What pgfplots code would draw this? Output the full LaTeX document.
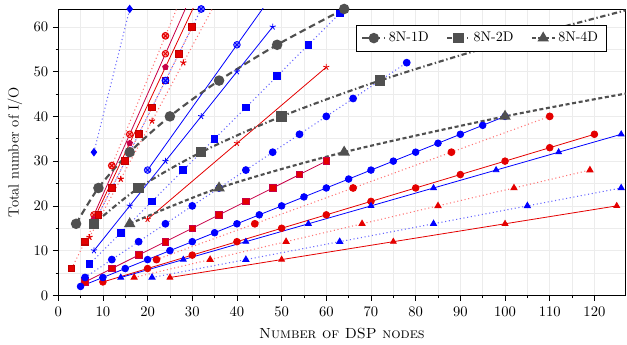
\documentclass[border=0pt]{standalone}
\usepackage{pgfplots}
\pgfplotsset{compat=1.18}
\definecolor{cblue}{RGB}{0,0,255}
\definecolor{cred}{RGB}{228,0,0}
\definecolor{ccrim}{RGB}{200,0,70}
\definecolor{cgray}{RGB}{80,80,80}
\pgfplotsset{
  rsolid/.style={cred, line width=0.6pt},
  csolid/.style={ccrim, line width=0.6pt},
  rdot/.style={red!55, line width=0.8pt, dotted},
  bsolid/.style={cblue, line width=0.6pt},
  bdot/.style={blue!60, line width=0.8pt, dotted},
  rmk/.style={mark options={solid, draw=cred, fill=cred}},
  bmk/.style={mark options={solid, draw=cblue, fill=cblue}},
}
\begin{document}
\begin{tikzpicture}
\begin{axis}[
  scale only axis, width=426pt, height=215pt,
  xmin=0, xmax=127, ymin=0, ymax=64,
  xtick={0,10,...,120}, ytick={0,10,...,60},
  minor tick num=1,
  grid=both,
  major grid style={gray!15, line width=0.4pt},
  minor grid style={gray!15, line width=0.4pt},
  tick align=outside, tick pos=left,
  major tick length=4pt, minor tick length=2pt,
  tick style={black, line width=0.5pt},
  axis line style={black, line width=0.6pt},
  xlabel={\textsc{Number of DSP nodes}},
  ylabel={Total number of I/O},
  label style={font=\fontsize{11}{13}\selectfont},
  tick label style={font=\fontsize{11}{13}\selectfont},
  xticklabel style={yshift=-1pt},
  xlabel style={at={(axis description cs:0.5,0)}, yshift=-28.6pt, anchor=center},
  ylabel style={at={(axis description cs:-0.0763,0.5)}, anchor=center},
  legend style={at={(rel axis cs:0.966,0.945)}, anchor=north east,
    font=\fontsize{10.5}{12}\selectfont, draw=black, fill=white,
    inner xsep=4pt, inner ysep=3.5pt,
    /tikz/every even column/.append style={column sep=11pt}},
  legend columns=3,
  legend cell align=left,
]
\addlegendimage{cgray, line width=1.6pt, dash pattern=on 5pt off 3pt, mark=*, mark size=3.1pt, mark options={solid, fill=cgray}}
\addlegendentry{8N-1D}
\addlegendimage{cgray, line width=1.6pt, dash pattern=on 4pt off 2pt on 1pt off 2pt, mark=square*, mark size=3.1pt, mark options={solid, fill=cgray}}
\addlegendentry{8N-2D}
\addlegendimage{cgray, line width=1.6pt, dash pattern=on 3pt off 2pt, mark=triangle*, mark size=3.4pt, mark options={solid, fill=cgray}}
\addlegendentry{8N-4D}

% ---------- red series ----------
\addplot[forget plot, rdot, mark=otimes*, mark size=2.5pt, mark options={solid, draw=cred, fill=red!40}]
  coordinates {(12,29) (24,58) (36,87)};
\addplot[forget plot, csolid, mark=otimes*, mark size=2.5pt, mark options={solid, draw=cred, fill=red!40}]
  coordinates {(8,18) (16,36) (24,54) (32,72)};
\addplot[forget plot, rsolid, mark=pentagon*, mark size=2.2pt, mark options={solid, draw=ccrim, fill=ccrim}]
  coordinates {(8,17) (16,34) (24,51) (32,68)};
\addplot[forget plot, rdot, mark=square*, mark size=2.5pt, mark options={solid, draw=red!75!black, fill=cred}]
  coordinates {(3,6) (6,12) (9,18) (12,24) (15,30) (18,36) (21,42) (24,48) (27,54) (30,60)};
\addplot[forget plot, rdot, mark=star, mark size=2.4pt, rmk]
  coordinates {(7,13) (14,26) (21,39) (28,52) (35,65)};
\addplot[forget plot, rsolid, mark=star, mark size=2.4pt, rmk]
  coordinates {(20,17) (40,34) (60,51)};
\addplot[forget plot, csolid, mark=square*, mark size=2.5pt, mark options={solid, draw=ccrim, fill=cred}]
  coordinates {(6,3) (12,6) (18,9) (24,12) (30,15) (36,18) (42,21) (48,24) (54,27) (60,30)};
\addplot[forget plot, rdot, mark=*, mark size=2.5pt, rmk]
  coordinates {(22,8) (44,16) (66,24) (88,32) (110,40)};
\addplot[forget plot, rsolid, mark=*, mark size=2.5pt, rmk]
  coordinates {(10,3) (20,6) (30,9) (40,12) (50,15) (60,18) (70,21) (80,24) (90,27) (100,30) (110,33) (120,36)};
\addplot[forget plot, rdot, mark=triangle*, mark size=2.5pt, rmk]
  coordinates {(17,4) (34,8) (51,12) (68,16) (85,20) (102,24) (119,28)};
\addplot[forget plot, rsolid, mark=triangle*, mark size=2.5pt, rmk]
  coordinates {(25,4) (50,8) (75,12) (100,16) (125,20)};

% ---------- blue series ----------
\addplot[forget plot, bdot, mark=diamond*, mark size=2.6pt, bmk]
  coordinates {(8,32) (16,64)};
\addplot[forget plot, bdot, mark=otimes*, mark size=2.5pt, mark options={solid, draw=cblue, fill=blue!45}]
  coordinates {(8,16) (16,32) (24,48) (32,64)};
\addplot[forget plot, bsolid, mark=otimes*, mark size=2.5pt, mark options={solid, draw=cblue, fill=blue!45}]
  coordinates {(20,28) (40,56) (60,84)};
\addplot[forget plot, bsolid, mark=star, mark size=2.4pt, bmk]
  coordinates {(8,10) (16,20) (24,30) (32,40) (40,50) (48,60)};
\addplot[forget plot, bdot, mark=square*, mark size=2.5pt, bmk]
  coordinates {(7,7) (14,14) (21,21) (28,28) (35,35) (42,42) (49,49) (56,56) (63,63)};
\addplot[forget plot, bdot, mark=*, mark size=2.5pt, bmk]
  coordinates {(6,4) (12,8) (18,12) (24,16) (30,20) (36,24) (42,28) (48,32) (54,36) (60,40) (66,44) (72,48) (78,52)};
\addplot[forget plot, bsolid, mark=*, mark size=2.5pt, bmk]
  coordinates {(5,2) (10,4) (15,6) (20,8) (25,10) (30,12) (35,14) (40,16) (45,18) (50,20) (55,22) (60,24) (65,26) (70,28) (75,30) (80,32) (85,34) (90,36) (95,38) (100,40)};
\addplot[forget plot, bsolid, mark=triangle*, mark size=2.5pt, bmk]
  coordinates {(14,4) (28,8) (42,12) (56,16) (70,20) (84,24) (98,28) (112,32) (126,36)};
\addplot[forget plot, bdot, mark=triangle*, mark size=2.5pt, bmk]
  coordinates {(21,4) (42,8) (63,12) (84,16) (105,20) (126,24)};

% ---------- gray reference curves ----------
\addplot[forget plot, cgray, line width=1.6pt, dash pattern=on 5pt off 3pt, smooth, mark=*, mark size=3.1pt, mark options={solid, fill=cgray}]
  coordinates {(4,16) (9,24) (16,32) (25,40) (36,48) (49,56) (64,64)};
\addplot[forget plot, cgray, line width=1.6pt, dash pattern=on 4pt off 2pt on 1pt off 2pt, smooth, mark=square*, mark size=3.1pt, mark indices={1,2,3,4,5,6}, mark options={solid, fill=cgray}]
  coordinates {(8,16) (18,24) (32,32) (50,40) (72,48) (98,56) (127,63.7)};
\addplot[forget plot, cgray, line width=1.6pt, dash pattern=on 3pt off 2pt, smooth, mark=triangle*, mark size=3.4pt, mark indices={1,2,3,4}, mark options={solid, fill=cgray}]
  coordinates {(16,16) (36,24) (64,32) (100,40) (127,45.1)};
\end{axis}
\pgfresetboundingbox
\path ([shift={(-43.7pt,-37pt)}]current axis.south west) rectangle ([shift={(1pt,6.75pt)}]current axis.north east);
\end{tikzpicture}
\end{document}
